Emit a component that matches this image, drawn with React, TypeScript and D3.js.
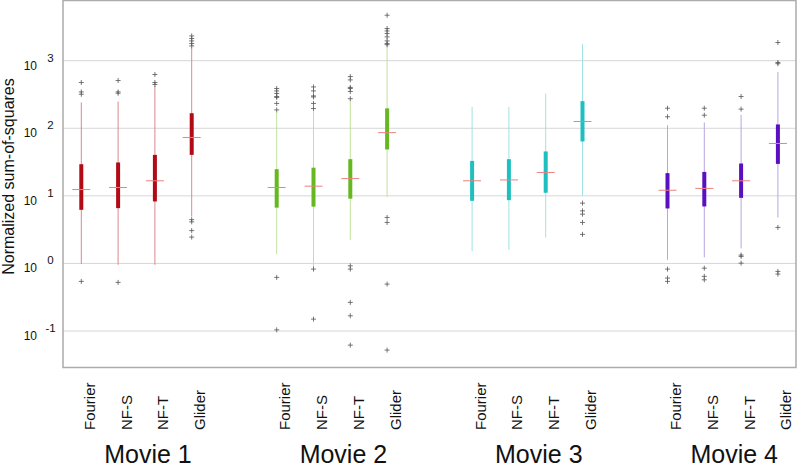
import React from "react";
import * as d3 from "d3";

const groups = ["Movie 1", "Movie 2", "Movie 3", "Movie 4"];
const methods = ["Fourier", "NF-S", "NF-T", "Glider"];
const tickValues = [0.1, 1, 10, 100, 1000];
const tickExponents = ["-1", "0", "1", "2", "3"];

// order: Movie1 (Fourier, NF-S, NF-T, Glider), Movie2 ..., Movie3 ..., Movie4 ...
const q1Values = [6.21, 6.58, 8.26, 40.4, 6.69, 6.92, 9.09, 48.6, 8.44, 8.64, 11.1, 63.8, 6.51, 6.97, 9.34, 29.7];
const medianValues = [12.4, 13.3, 16.7, 73.1, 13.3, 13.9, 18.0, 86.1, 16.7, 17.2, 22.2, 126, 12.1, 12.9, 16.7, 59.6];
const q3Values = [29.4, 31.2, 40.4, 167, 24.8, 26.1, 34.9, 197, 32.9, 34.9, 45.4, 252, 21.7, 22.6, 30.1, 114];
const whiskerLow = [0.977, 0.953, 0.953, 4.95, 1.37, 0.873, 2.23, 9.73, 1.51, 1.59, 2.42, 10, 1.13, 1.23, 1.67, 4.79];
const whiskerHigh = [241, 249, 424, 1567, 173, 179, 256, 1656, 207, 207, 327, 1754, 111, 122, 158, 682];
const outlierValues = [
  [476, 345, 319, 0.542],
  [509, 345, 330, 0.524],
  [625, 476, 445],
  [2328, 2128, 1963, 1795, 1656, 4.45, 4.12, 3.06, 2.45],
  [388, 357, 327, 295, 286, 233, 187, 0.621, 0.104],
  [409, 357, 301, 291, 233, 196, 0.824, 0.15],
  [583, 520, 402, 388, 350, 274, 0.921, 0.824, 0.265, 0.168, 0.0618],
  [4710, 2992, 2759, 2524, 2249, 1963, 1795, 1725, 4.79, 4.04, 0.494, 0.0522],
  [],
  [],
  [],
  [7.8, 6.0, 5.36, 4.04, 2.69],
  [198, 148, 0.824, 0.607, 0.542],
  [198, 156, 0.851, 0.643, 0.572],
  [295, 192, 1.33, 1.27, 1.01],
  [1858, 940, 903, 3.41, 0.762, 0.695],
];

const boxColors = ["#b20b16", "#66b820", "#1fbfbf", "#5a10c0"];
const whiskerColors = ["#da8890", "#c2e19c", "#9fe3e3", "#b9a5e0"];

const W = 797;
const H = 468;
const plotLeft = 63;
const plotRight = 796;
const plotTop = 0.5;
const plotBottom = 367.5;

export default function App() {
  const y = d3.scaleLog().domain([0.1, 1000]).range([331, 60.7]);
  const groupX = d3.scaleLinear().domain([0, 3]).range([81.3, 667.5]);
  const methodX = d3.scaleLinear().domain([0, 3]).range([0, 110.4]);
  const xOf = (g: number, m: number) => groupX(g) + methodX(m);

  const items: { g: number; m: number; i: number }[] = [];
  groups.forEach((_, g) => methods.forEach((__, m) => items.push({ g, m, i: g * 4 + m })));

  const font = "'Liberation Sans', Arial, Helvetica, sans-serif";

  return (
    <svg width={W} height={H} style={{ position: "absolute", left: 0, top: 0, background: "#fff" }} fontFamily={font}>
      <rect x={0} y={0} width={W} height={H} fill="#fff" />
      {tickValues.map((v) => (
        <line key={"g" + v} x1={plotLeft} x2={plotRight} y1={y(v)} y2={y(v)} stroke="#d6d6d6" strokeWidth={1} />
      ))}
      <rect x={plotLeft} y={plotTop} width={plotRight - plotLeft} height={plotBottom - plotTop} fill="none" stroke="#ababab" strokeWidth={1.5} />
      {tickValues.map((v, k) => (
        <g key={"t" + v}>
          <text x={37} y={y(v) + 9} fontSize={12} textAnchor="end" fill="#111">10</text>
          <text x={50.5} y={y(v) + 1} fontSize={11.5} textAnchor="middle" fill="#111">{tickExponents[k]}</text>
        </g>
      ))}
      <text transform={`translate(13.5,176.5) rotate(-90)`} fontSize={16} textAnchor="middle" fill="#111">
        Normalized sum-of-squares
      </text>
      {items.map(({ g, m, i }) => {
        const cx = xOf(g, m);
        return (
          <g key={"b" + i}>
            <line x1={cx} x2={cx} y1={y(whiskerLow[i])} y2={y(whiskerHigh[i])} stroke={whiskerColors[g]} strokeWidth={1} />
            <rect x={cx - 2} y={y(q3Values[i])} width={4} height={y(q1Values[i]) - y(q3Values[i])} fill={boxColors[g]} />
            <line x1={cx - 9} x2={cx + 9} y1={y(medianValues[i])} y2={y(medianValues[i])} stroke="#ec8080" strokeWidth={1} />
            {outlierValues[i].map((v, j) => (
              <path key={j} d={`M${cx - 2.5},${y(v)}h5M${cx},${y(v) - 2.5}v5`} stroke="#555" strokeWidth={0.8} fill="none" />
            ))}
            <text transform={`translate(${cx + 13.5},430) rotate(-90)`} fontSize={15} fill="#111">
              {methods[m]}
            </text>
          </g>
        );
      })}
      {groups.map((name, g) => (
        <text key={name} x={(xOf(g, 0) + xOf(g, 3)) / 2 + 11.5} y={462.5} fontSize={25} textAnchor="middle" fill="#111">
          {name}
        </text>
      ))}
    </svg>
  );
}
